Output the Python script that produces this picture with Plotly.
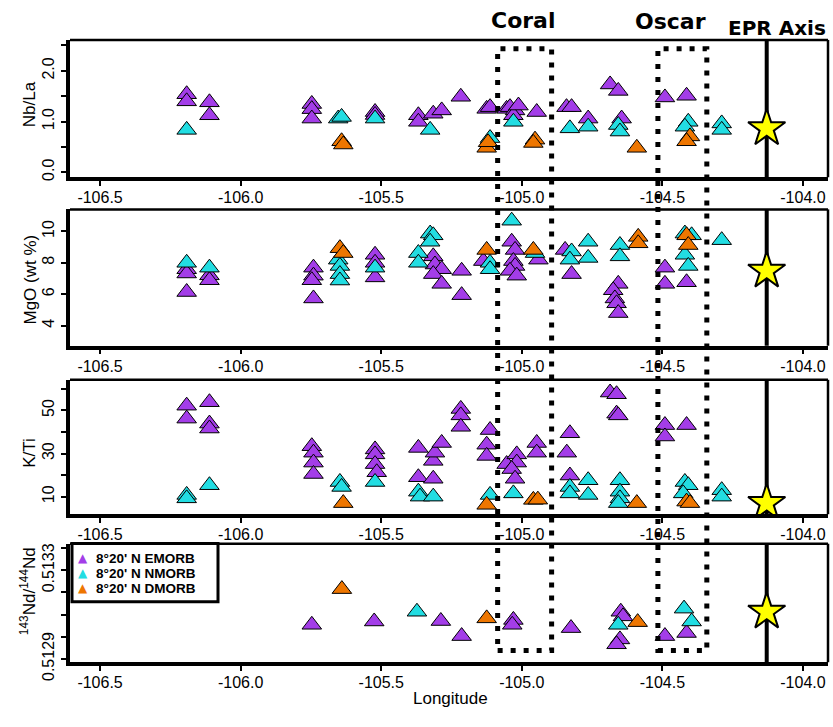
import plotly.graph_objects as go

# ---------------- data ----------------
# Panel 1: Nb/La
nbla_e_lon = [-106.192, -106.192, -106.111, -106.111, -105.747, -105.747, -105.747, -105.522, -105.522,
              -105.368, -105.368, -105.315, -105.285, -105.217, -105.125, -105.113, -105.054, -105.042,
              -105.024, -105.030, -105.012, -104.947, -104.841, -104.823, -104.764, -104.686, -104.657,
              -104.645, -104.491, -104.414]
nbla_e = [1.538, 1.398, 1.379, 1.123, 1.346, 1.244, 1.058, 1.187, 1.129,
          1.123, 0.994, 1.154, 1.219, 1.488, 1.250, 1.283, 1.250, 1.283,
          1.219, 1.123, 1.315, 1.187, 1.283, 1.283, 1.058, 1.731, 1.604,
          1.058, 1.475, 1.508]
nbla_n_lon = [-106.192, -105.653, -105.641, -105.522, -105.326, -105.113, -105.030, -104.829, -104.764,
              -104.657, -104.651, -104.408, -104.420, -104.289, -104.289]
nbla_n = [0.835, 1.058, 1.090, 1.058, 0.835, 0.673, 0.994, 0.865, 0.898,
          0.931, 0.802, 0.994, 0.898, 0.962, 0.835]
nbla_d_lon = [-105.641, -105.635, -105.125, -105.120, -104.953, -104.959, -104.591, -104.402, -104.414]
nbla_d = [0.610, 0.546, 0.481, 0.590, 0.642, 0.577, 0.481, 0.706, 0.610]

# Panel 2: MgO (wt %)
mgo_e_lon = [-106.192, -106.192, -106.192, -106.111, -106.111, -105.741, -105.741, -105.747, -105.741,
             -105.522, -105.522, -105.522, -105.315, -105.309, -105.285, -105.315, -105.285, -105.214,
             -105.214, -105.137, -105.036, -105.024, -105.030, -105.024, -105.042, -105.018, -104.941,
             -104.846, -104.823, -104.657, -104.675, -104.669, -104.663, -104.657, -104.491, -104.491,
             -104.414]
mgo_e = [7.59, 7.32, 6.14, 7.20, 6.89, 7.69, 7.18, 6.89, 5.73,
         8.51, 8.00, 7.07, 8.41, 7.89, 7.59, 7.28, 6.66, 7.49,
         5.94, 8.11, 9.34, 8.82, 8.11, 7.80, 7.49, 7.18, 8.20,
         8.82, 7.28, 6.66, 6.25, 5.73, 5.42, 4.80, 7.69, 6.66,
         6.76]
mgo_n_lon = [-106.192, -106.111, -105.653, -105.647, -105.647, -105.647, -105.522, -105.368, -105.368,
             -105.326, -105.315, -105.326, -105.113, -105.113, -105.036, -104.953, -104.823, -104.829,
             -104.764, -104.764, -104.651, -104.651, -104.420, -104.396, -104.420, -104.408, -104.289]
mgo_n = [8.00, 7.69, 8.20, 7.80, 7.28, 6.87, 7.69, 8.62, 8.00,
         9.86, 9.75, 9.34, 8.00, 7.59, 10.68, 8.62, 8.72, 8.20,
         9.34, 8.31, 9.13, 8.41, 9.86, 9.75, 8.51, 7.80, 9.44]
mgo_d_lon = [-105.647, -105.635, -105.125, -104.959, -104.586, -104.586, -104.414, -104.408]
mgo_d = [8.93, 8.62, 8.82, 8.82, 9.65, 9.24, 9.75, 9.13]

# Panel 3: K/Ti
kti_e_lon = [-106.192, -106.192, -106.111, -106.111, -106.111, -105.747, -105.741, -105.741, -105.741,
             -105.522, -105.522, -105.522, -105.516, -105.368, -105.368, -105.315, -105.309, -105.285,
             -105.315, -105.217, -105.217, -105.217, -105.113, -105.125, -105.125, -105.054, -105.018,
             -105.018, -105.036, -105.024, -104.947, -104.947, -104.829, -104.840, -104.829, -104.686,
             -104.663, -104.663, -104.657, -104.491, -104.491, -104.414]
kti_e = [52.2, 46.2, 53.8, 43.9, 41.6, 33.4, 30.4, 25.8, 20.5,
         31.9, 29.6, 25.1, 21.3, 32.6, 19.0, 26.6, 30.4, 34.9,
         18.3, 50.7, 47.7, 42.4, 40.9, 34.1, 28.9, 25.1, 29.6,
         25.8, 22.8, 18.3, 34.9, 30.4, 39.4, 30.4, 19.8, 58.3,
         57.5, 48.5, 47.7, 43.2, 37.9, 43.2]
kti_n_lon = [-106.192, -106.192, -106.111, -105.647, -105.641, -105.522, -105.368, -105.362, -105.315,
             -105.113, -105.030, -104.829, -104.829, -104.764, -104.764, -104.651, -104.651, -104.651,
             -104.657, -104.420, -104.408, -104.426, -104.289, -104.289]
kti_n = [10.8, 9.2, 15.3, 16.8, 14.5, 16.8, 12.3, 10.0, 10.0,
         10.8, 11.5, 14.5, 11.5, 17.6, 10.8, 17.6, 12.3, 9.2,
         7.0, 16.8, 15.3, 11.5, 13.0, 10.0]
kti_d_lon = [-105.635, -105.125, -104.959, -104.943, -104.591, -104.414, -104.402]
kti_d = [7.0, 6.2, 8.5, 8.6, 7.0, 7.7, 7.0]

# Panel 4: 143Nd/144Nd
nd_e_lon = [-105.747, -105.525, -105.288, -105.214, -105.030, -105.034, -104.825, -104.648, -104.640,
            -104.651, -104.663, -104.491, -104.414]
nd_e = [0.513054, 0.513069, 0.513071, 0.513003, 0.513076, 0.513054, 0.513039, 0.513113, 0.513092,
        0.512988, 0.512966, 0.513003, 0.513017]
nd_n_lon = [-105.373, -104.657, -104.423, -104.396]
nd_n = [0.513113, 0.513054, 0.513127, 0.513069]
nd_d_lon = [-105.640, -105.125, -104.588]
nd_d = [0.513215, 0.513083, 0.513066]

# EPR axis reference (star)
epr_lon = -104.129
epr_vals = [0.865, 7.49, 7.0, 0.513113]

# Seamount boxes (longitude extents)
coral_lon = [-105.086, -104.894]
oscar_lon = [-104.516, -104.342]

series_names = ["8°20' N EMORB", "8°20' N NMORB", "8°20' N DMORB"]
series_colors = ["#A33DE8", "#22DDE2", "#EE7600"]

x_ticks = [-106.5, -106.0, -105.5, -105.0, -104.5, -104.0]
x_ticktext = ["-106.5", "-106.0", "-105.5", "-105.0", "-104.5", "-104.0"]

panels = [
    dict(series=[(nbla_e_lon, nbla_e), (nbla_n_lon, nbla_n), (nbla_d_lon, nbla_d)],
         yrange=[-0.10, 2.61], tickvals=[0, 1.0, 2.0], ticktext=["0.0", "1.0", "2.0"],
         minor=[0.5, 1.5, 2.5], dom=(41, 182)),
    dict(series=[(mgo_e_lon, mgo_e), (mgo_n_lon, mgo_n), (mgo_d_lon, mgo_d)],
         yrange=[2.72, 11.40], tickvals=[4, 6, 8, 10], ticktext=["4", "6", "8", "10"],
         minor=[], dom=(215, 355)),
    dict(series=[(kti_e_lon, kti_e), (kti_n_lon, kti_n), (kti_d_lon, kti_d)],
         yrange=[1.85, 64.2], tickvals=[10, 30, 50], ticktext=["10", "30", "50"],
         minor=[20, 40, 60], dom=(390, 528)),
    dict(series=[(nd_e_lon, nd_e), (nd_n_lon, nd_n), (nd_d_lon, nd_d)],
         yrange=[0.512885, 0.51342], tickvals=[0.5129, 0.5133], ticktext=["0.5129", "0.5133"],
         minor=[0.5130, 0.5131, 0.5132, 0.5134], dom=(558.3, 680)),
]

W, H = 833, 727
XL, XR = 70, 828
XRANGE = [-106.607, -103.911]
FONT = "Liberation Sans, Arial, sans-serif"

fig = go.Figure()
shapes = []
layout_axes = {}

for i, p in enumerate(panels):
    k = "" if i == 0 else str(i + 1)
    xa, ya = "x" + k, "y" + k
    for j, (lon, val) in enumerate(p["series"]):
        fig.add_trace(go.Scatter(
            x=lon, y=val, mode="markers", xaxis=xa, yaxis=ya,
            name=series_names[j], legendgroup=series_names[j], showlegend=False,
            marker=dict(symbol="triangle-up", size=17, color=series_colors[j],
                        line=dict(color="black", width=1)),
        ))
    fig.add_trace(go.Scatter(
        x=[epr_lon], y=[epr_vals[i]], mode="markers", xaxis=xa, yaxis=ya, showlegend=False,
        name="EPR Axis",
        marker=dict(symbol="star", size=28, color="#FFFF00", line=dict(color="black", width=2)),
    ))
    top, bot = p["dom"]
    layout_axes["xaxis" + k] = dict(
        domain=[XL / W, XR / W], range=XRANGE, anchor=ya,
        tickmode="array", tickvals=x_ticks, ticktext=x_ticktext,
        ticks="outside", ticklen=5, tickwidth=1.5, tickcolor="black",
        ticklabelstandoff=-2,
        showline=True, linewidth=3.5, linecolor="black",
        showgrid=False, zeroline=False,
        tickfont=dict(family=FONT, size=16, color="black"),
    )
    yax = dict(
        domain=[1 - bot / H, 1 - top / H], range=p["yrange"], anchor=xa,
        tickmode="array", tickvals=p["tickvals"], ticktext=p["ticktext"],
        ticks="outside", ticklen=5, tickwidth=1.5, tickcolor="black",
        tickangle=-90, ticklabelstandoff=1,
        showline=True, linewidth=3.5, linecolor="black",
        showgrid=False, zeroline=False,
        tickfont=dict(family=FONT, size=16, color="black"),
    )
    if p["minor"]:
        yax["minor"] = dict(tickmode="array", tickvals=p["minor"], ticks="outside",
                            ticklen=5, tickwidth=1.5, tickcolor="black", showgrid=False)
    layout_axes["yaxis" + k] = yax
    # top and right frame lines
    shapes.append(dict(type="line", xref=xa + " domain", yref=ya + " domain",
                       x0=0, x1=1, y0=1, y1=1, line=dict(color="black", width=2.5)))
    shapes.append(dict(type="line", xref=xa + " domain", yref=ya + " domain",
                       x0=1, x1=1, y0=0, y1=1, line=dict(color="black", width=2.5)))
    # EPR axis line
    shapes.append(dict(type="line", xref=xa, yref=ya + " domain", layer="below",
                       x0=epr_lon, x1=epr_lon, y0=0, y1=1, line=dict(color="black", width=4)))

# Dotted boxes around Coral and Oscar, spanning all panels
for lon_pair in (coral_lon, oscar_lon):
    shapes.append(dict(type="rect", xref="x", yref="paper",
                       x0=lon_pair[0], x1=lon_pair[1], y0=1 - 668 / H, y1=1 - 50 / H,
                       line=dict(color="black", width=5, dash="5px,8px")))

# Legend box (top-left of the bottom panel)
shapes.append(dict(type="rect", xref="paper", yref="paper",
                   x0=72 / W, x1=218 / W, y0=1 - 618 / H, y1=1 - 558 / H,
                   fillcolor="white", line=dict(color="black", width=3), layer="above"))


def ann(text, x, y, size, family=FONT, angle=0, color="black", xanchor="center"):
    return dict(text=text, x=x / W, y=1 - y / H, xref="paper", yref="paper",
                xanchor=xanchor, yanchor="middle", textangle=angle, showarrow=False,
                borderpad=0, font=dict(family=family, size=size, color=color))


annotations = [
    ann("<b>Coral</b>", 523, 21, 22, "DejaVu Sans"),
    ann("<b>Oscar</b>", 670, 22, 22, "DejaVu Sans"),
    ann("<b>EPR Axis</b>", 777, 28.5, 20, "DejaVu Sans"),
    ann("Nb/La", 29, 107, 17, angle=-90),
    ann("MgO (wt %)", 30, 287, 17, angle=-90),
    ann("K/Ti", 30, 465, 17, angle=-90),
    ann("<sup>143</sup>Nd/<sup>144</sup>Nd", 28, 607, 17, angle=-90),
    ann("Longitude", 450, 717, 17),
]
legend_rows = [572.5, 588.5, 604]
for name, color, yy in zip(series_names, series_colors, legend_rows):
    annotations.append(ann("▲", 83, yy, 12, "DejaVu Sans", color=color))
    annotations.append(ann("<b>" + name + "</b>", 95, yy + 0.5, 13.5, xanchor="left"))

fig.update_layout(
    width=W, height=H, margin=dict(l=0, r=0, t=0, b=0),
    paper_bgcolor="white", plot_bgcolor="white",
    shapes=shapes, annotations=annotations, showlegend=False,
    **layout_axes,
)

fig.write_html("out.html", config={"displayModeBar": False},
               post_script="document.body.style.margin='0px';")
